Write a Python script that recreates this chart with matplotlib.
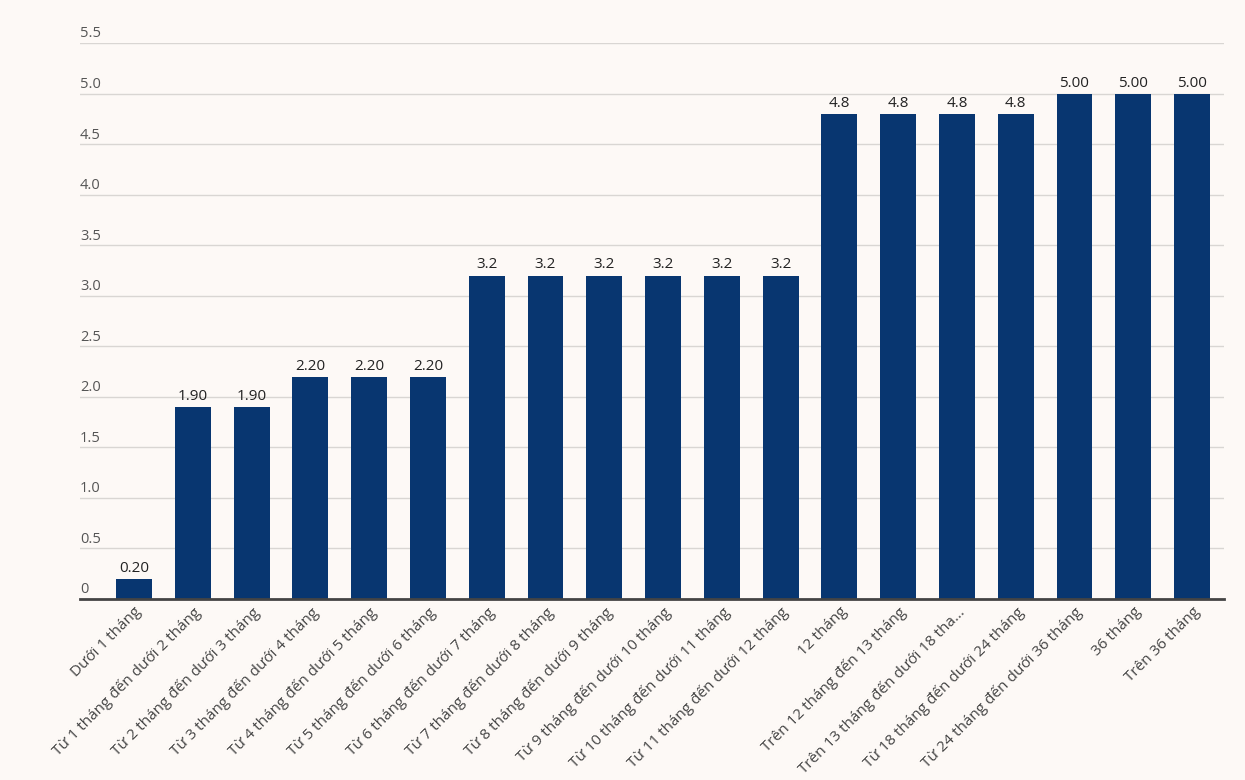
import matplotlib
matplotlib.use('Agg')
import matplotlib.pyplot as plt

## Data ###########
labels = ['Dưới 1 tháng', 'Từ 1 tháng đến dưới 2 tháng', 'Từ 2 tháng đến dưới 3 tháng',
          'Từ 3 tháng đến dưới 4 tháng', 'Từ 4 tháng đến dưới 5 tháng', 'Từ 5 tháng đến dưới 6 tháng',
          'Từ 6 tháng đến dưới 7 tháng', 'Từ 7 tháng đến dưới 8 tháng', 'Từ 8 tháng đến dưới 9 tháng',
          'Từ 9 tháng đến dưới 10 tháng', 'Từ 10 tháng đến dưới 11 tháng', 'Từ 11 tháng đến dưới 12 tháng',
          '12 tháng', 'Trên 12 tháng đến 13 tháng', 'Trên 13 tháng đến dưới 18 tha...',
          'Từ 18 tháng đến dưới 24 tháng', 'Từ 24 tháng đến dưới 36 tháng', '36 tháng', 'Trên 36 tháng']
values = [0.20, 1.90, 1.90, 2.20, 2.20, 2.20, 3.2, 3.2, 3.2, 3.2, 3.2, 3.2,
          4.8, 4.8, 4.8, 4.8, 5.00, 5.00, 5.00]
value_text = ['0.20', '1.90', '1.90', '2.20', '2.20', '2.20', '3.2', '3.2', '3.2', '3.2', '3.2', '3.2',
              '4.8', '4.8', '4.8', '4.8', '5.00', '5.00', '5.00']
yticks = [0, 0.5, 1.0, 1.5, 2.0, 2.5, 3.0, 3.5, 4.0, 4.5, 5.0, 5.5]
ytick_text = ['0', '0.5', '1.0', '1.5', '2.0', '2.5', '3.0', '3.5', '4.0', '4.5', '5.0', '5.5']

bg = '#fdf9f6'
bar_color = '#083670'
plt.rcParams['font.family'] = ['Open Sans', 'DejaVu Sans']

## Set up Chart ###########
fig = plt.figure(figsize=(12.45, 7.8), dpi=100, facecolor=bg)
ax = fig.add_axes([80/1245, 181/780, 1144/1245, 556/780])
ax.set_facecolor(bg)

x = list(range(len(values)))
ax.bar(x, values, width=0.61, color=bar_color, zorder=3)

for xi, v, t in zip(x, values, value_text):
    ax.text(xi, v + 0.03, t, ha='center', va='bottom', fontsize=11, color='#222222', zorder=4)

ax.set_xlim(-0.919, 18.544)
ax.set_ylim(0, 5.5)

# gridlines + y labels sitting on top of the lines
for yt, s in zip(yticks, ytick_text):
    if yt > 0:
        ax.axhline(yt, color='#d9d6d3', lw=1, zorder=1)
    ax.text(0, yt + 0.015, s, transform=ax.get_yaxis_transform(), ha='left', va='bottom',
            fontsize=10.5, color='#555555')
ax.axhline(0, color='#444444', lw=2, zorder=5, clip_on=False)

ax.set_yticks([])
ax.set_xticks(x)
ax.set_xticklabels(labels, rotation=45, ha='right', va='top', rotation_mode='anchor',
                   fontsize=11, color='#444444')
ax.tick_params(axis='x', length=0, pad=4)
for sp in ax.spines.values():
    sp.set_visible(False)

fig.savefig('out.png', dpi=100, facecolor=bg)
